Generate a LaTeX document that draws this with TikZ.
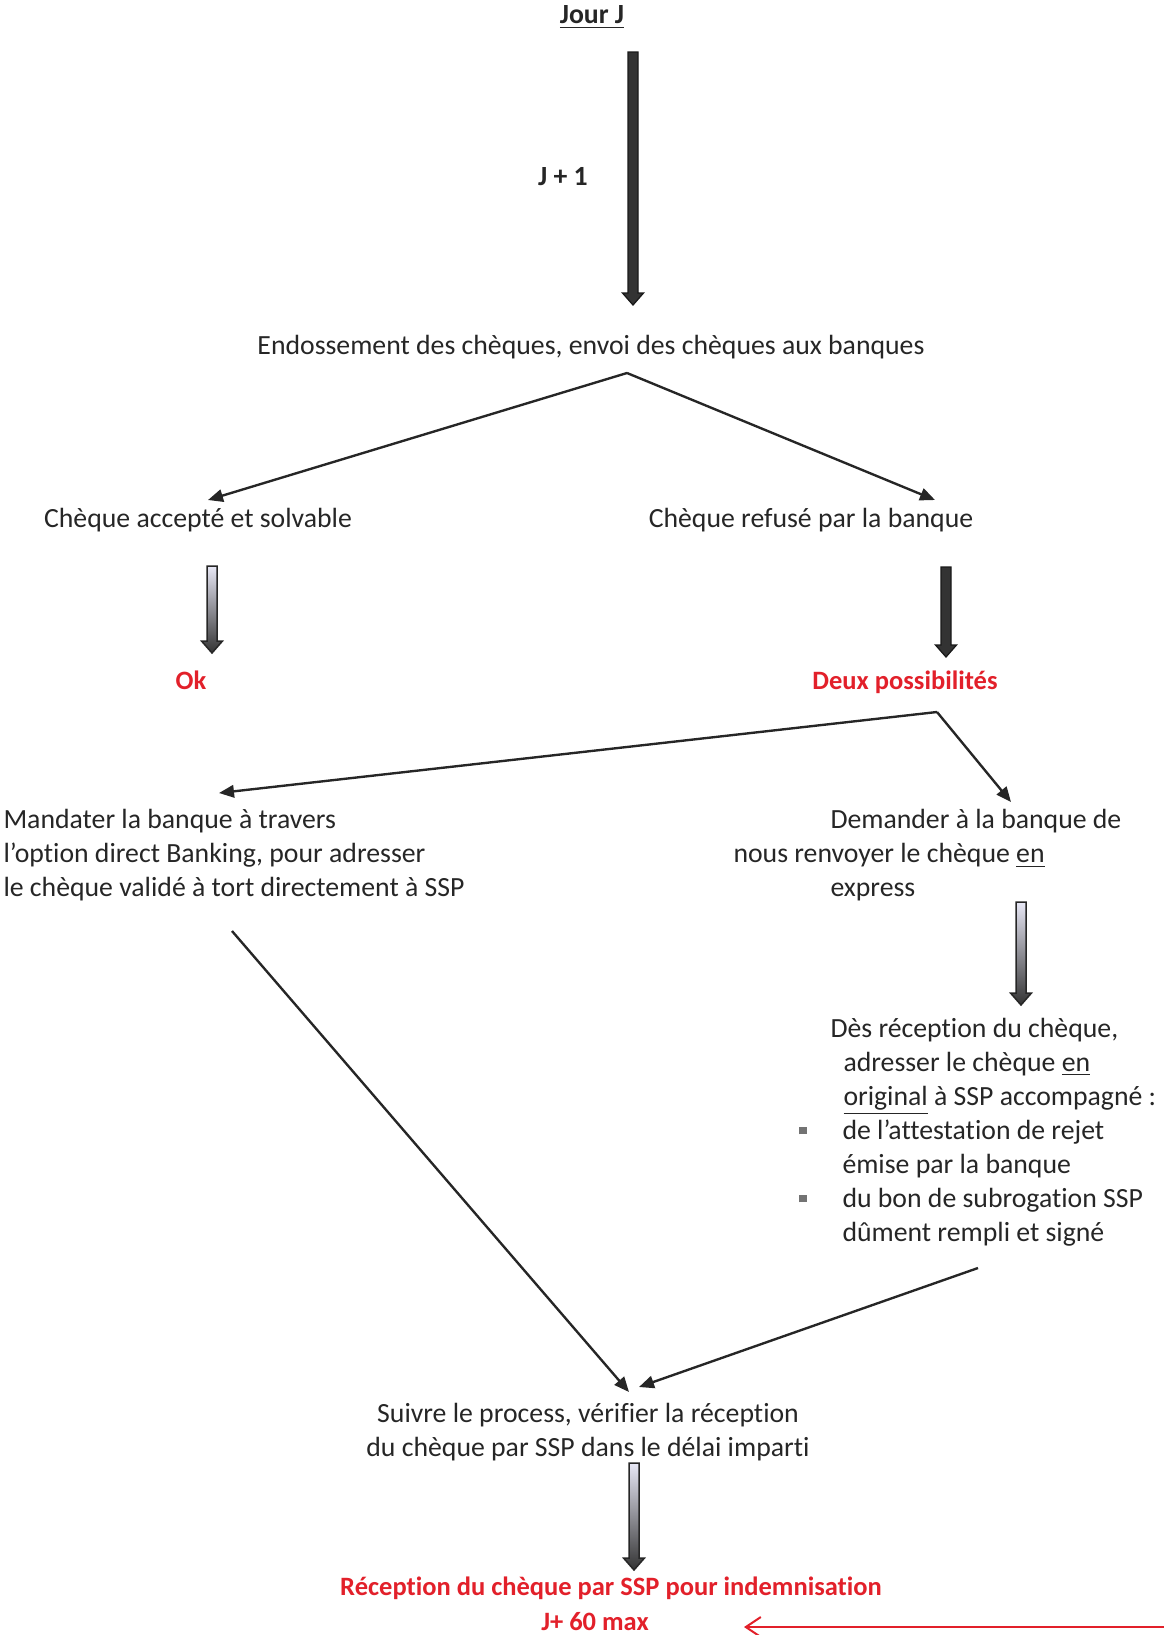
\documentclass[tikz,border=0pt]{standalone}
\usepackage{fontspec}
\setmainfont{Carlito}[Ligatures=NoCommon]
\usetikzlibrary{arrows.meta,calc}

\definecolor{alertred}{RGB}{226,32,42}
\definecolor{inkgray}{RGB}{38,38,38}
\definecolor{paleblock}{RGB}{232,232,246}

% vertical block arrow between two named coordinates
\newcommand\vblock[3][]{%
  \path[#1] ($(#2)+(-5,0)$) -- ($(#3)+(-5,-12)$) -- ($(#3)+(-10.5,-12)$) -- (#3)
    -- ($(#3)+(10.5,-12)$) -- ($(#3)+(5,-12)$) -- ($(#2)+(5,0)$) -- cycle;}
\newcommand\bul{\hspace*{4.8pt}\llap{\textcolor{black!55}{\rule[0.18em]{3pt}{3pt}}\hspace*{14.4pt}}}

\begin{document}
\begin{tikzpicture}[x=0.4pt,y=-0.4pt,
    every node/.style={inner sep=0pt, text=inkgray, font=\fontsize{11.1}{13.6}\selectfont},
    alert/.style={text=alertred, font=\fontsize{10.6}{13.6}\selectfont\bfseries},
    conn/.style={draw=black!85, line width=0.95pt, -{Triangle[length=6pt,width=5pt]}},
    redarrow/.style={draw=alertred, line width=0.8pt, -{Straight Barb[length=6pt,width=8pt]}},
    darkblock/.style={fill=black!80, draw=black!90, line width=0.5pt},
    shadeblock/.style={top color=paleblock, bottom color=black!80, draw=black!85, line width=0.6pt}]
   \useasboundingbox (0,0) rectangle (1164,1635);
   % texts
   \node (jour) at (592,17) {\textbf{\underline{Jour J}}};
   \node (jplus) at (563,177) {\textbf{J + 1}};
   \node (endo) at (591,347) {Endossement des chèques, envoi des chèques aux banques};
   \node (accepte) at (198,520) {Chèque accepté et solvable};
   \node (refuse) at (811,520) {Chèque refusé par la banque};
   \node[alert] (ok) at (191,680) {Ok};
   \node[alert] (deux) at (905,682) {Deux possibilités};
   \node[align=left, anchor=west] (mandater) at (3,855)
      {Mandater la banque à travers\\l’option direct Banking, pour adresser\\le chèque validé à tort directement à SSP};
   \node[align=left, anchor=west] (demander) at (733,855)
      {\hspace*{38.8pt}Demander à la banque de\\nous renvoyer le chèque \underline{en}\\\hspace*{38.8pt}express};
   \node[align=left, anchor=west] (des) at (830,1132)
      {Dès réception du chèque,\\\hspace*{5.2pt}adresser le chèque \underline{en}\\\hspace*{5.2pt}\underline{original} à SSP accompagné :\\
       \bul de l’attestation de rejet\\\hspace*{4.8pt}émise par la banque\\\bul du bon de subrogation SSP\\\hspace*{4.8pt}dûment rempli et signé};
   \node[align=center] (suivre) at (588,1432)
      {Suivre le process, vérifier la réception\\du chèque par SSP dans le délai imparti};
   \node[alert] (reception) at (611,1588) {Réception du chèque par SSP pour indemnisation};
   \node[alert] (delai) at (595,1622) {J+ 60 max};
   % block arrows
   \coordinate (aS) at ($(jour)+(41,35)$);
   \coordinate (aE) at ($(endo)+(42,-42)$);
   \vblock[darkblock]{aS}{aE}
   \coordinate (bS) at ($(accepte)+(14,46)$);
   \coordinate (bE) at ($(ok)+(21,-27)$);
   \vblock[shadeblock]{bS}{bE}
   \coordinate (cS) at ($(refuse)+(135,47)$);
   \coordinate (cE) at ($(deux)+(41,-25)$);
   \vblock[darkblock]{cS}{cE}
   \coordinate (dS) at ($(demander.west)+(288,47)$);
   \coordinate (dE) at ($(des.west)+(191,-127)$);
   \vblock[shadeblock]{dS}{dE}
   \coordinate (eS) at ($(suivre)+(46,31)$);
   \coordinate (eE) at ($(reception)+(23,-18)$);
   \vblock[shadeblock]{eS}{eE}
   % thin connectors
   \coordinate (split1) at ($(endo)+(36,26)$);
   \coordinate (split2) at ($(deux)+(32,30)$);
   \draw[conn] (split1) -- ($(accepte)+(10,-20)$);
   \draw[conn] (split1) -- ($(refuse)+(124,-20)$);
   \draw[conn] (split2) -- ($(mandater.west)+(216,-62)$);
   \draw[conn] (split2) -- ($(demander.west)+(278,-53)$);
   \draw[conn] ($(mandater.west)+(229,76)$) -- ($(suivre)+(41,-40)$);
   \draw[conn] ($(des.west)+(148,136)$) -- ($(suivre)+(51,-45)$);
   \coordinate (edge) at (1164,1627);
   \draw[redarrow] (edge) -- ($(delai)+(149,5)$);
\end{tikzpicture}
\end{document}
